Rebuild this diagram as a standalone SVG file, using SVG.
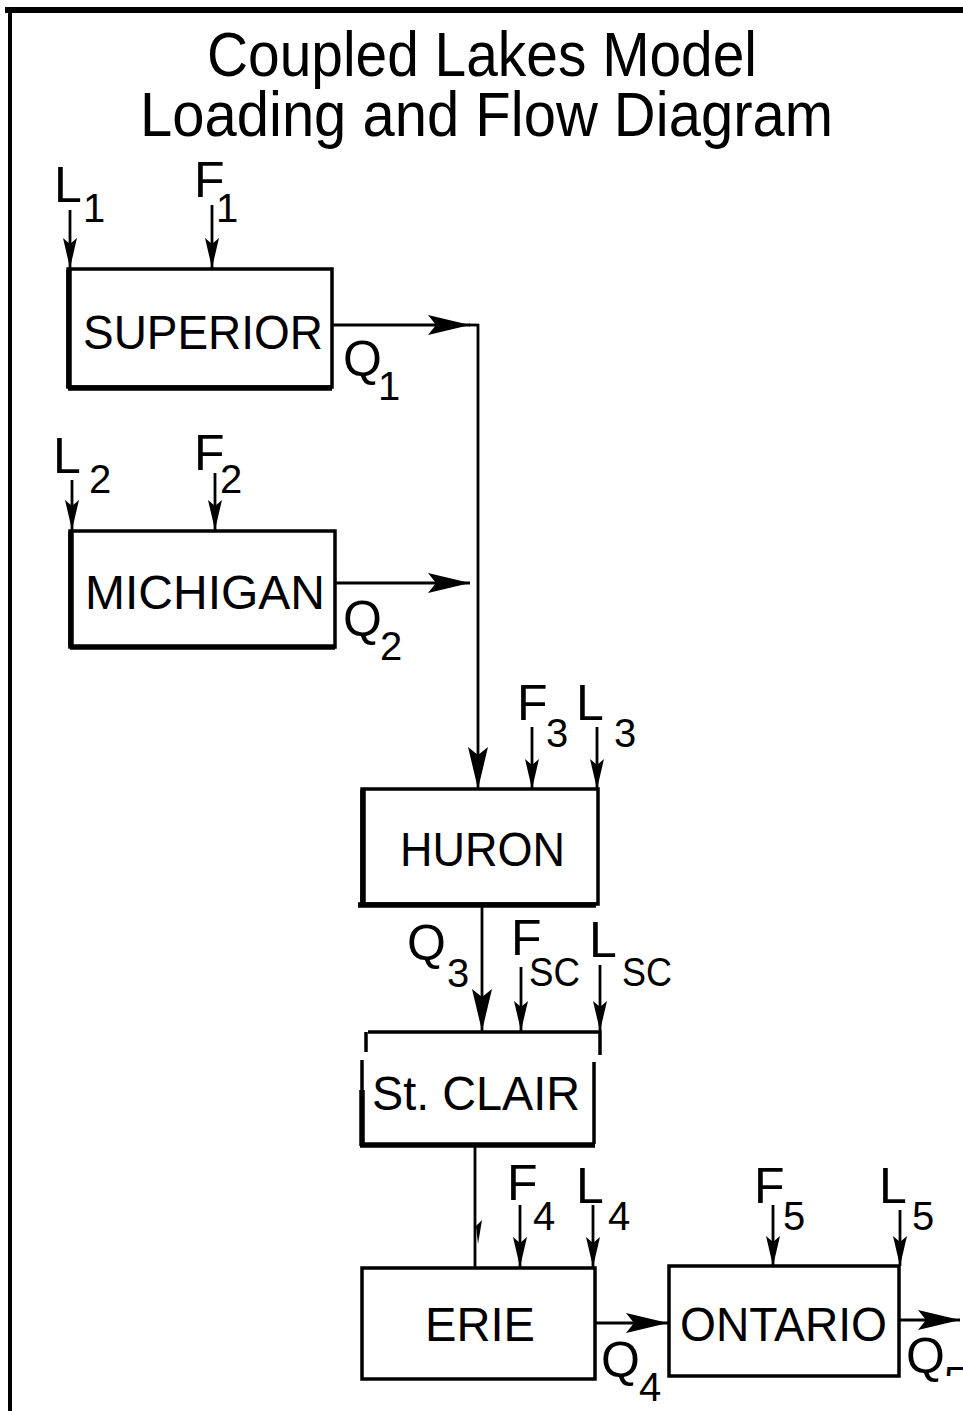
<svg xmlns="http://www.w3.org/2000/svg" width="963" height="1411" viewBox="0 0 963 1411">
<defs>
<style>
.t{font-family:"Liberation Sans",Arial,sans-serif;fill:#000}
.title{font-size:63px}
.lbl{font-size:48px}
.sym{font-size:50px}
.sub{font-size:40px}
.box{fill:#fff;stroke:#000;stroke-width:3.5}
.ln{stroke:#000;stroke-width:2.8;fill:none}
.thick{stroke:#000;stroke-width:5.5;fill:none}
</style>
<marker id="ah" markerUnits="userSpaceOnUse" markerWidth="32" markerHeight="14" refX="30" refY="7" orient="auto">
<path d="M0,0 L30,7 L0,14 L6,7 z" fill="#000"/>
</marker>
<marker id="ahb" markerUnits="userSpaceOnUse" markerWidth="44" markerHeight="20" refX="42" refY="10" orient="auto">
<path d="M0,0 L42,10 L0,20 L8,10 z" fill="#000"/>
</marker>
<clipPath id="cut"><rect x="900" y="1340" width="63" height="36"/></clipPath>
</defs>
<rect x="0" y="0" width="963" height="1411" fill="#fff"/>
<g id="frame">
<line x1="5" y1="10" x2="963" y2="10" stroke="#000" stroke-width="6"/>
<line x1="10" y1="8" x2="10" y2="1411" stroke="#000" stroke-width="4"/>
</g>
<g id="title">
<text class="t title" x="207" y="76" textLength="550" lengthAdjust="spacingAndGlyphs">Coupled Lakes Model</text>
<text class="t title" x="140" y="136" textLength="693" lengthAdjust="spacingAndGlyphs">Loading and Flow Diagram</text>
</g>
<g id="connectors">
<line class="ln" x1="70" y1="210" x2="70" y2="268" marker-end="url(#ah)"/>
<line class="ln" x1="212" y1="205" x2="212" y2="268" marker-end="url(#ah)"/>
<line class="ln" x1="332" y1="325" x2="470" y2="325" marker-end="url(#ahb)"/>
<line class="ln" x1="469" y1="325" x2="479" y2="325"/>
<line class="ln" x1="72" y1="480" x2="72" y2="530" marker-end="url(#ah)"/>
<line class="ln" x1="215" y1="473" x2="215" y2="530" marker-end="url(#ah)"/>
<line class="ln" x1="335" y1="583" x2="470" y2="583" marker-end="url(#ahb)"/>
<line class="ln" x1="478" y1="324" x2="478" y2="789" marker-end="url(#ahb)"/>
<line class="ln" x1="532" y1="727" x2="532" y2="789" marker-end="url(#ah)"/>
<line class="ln" x1="597" y1="727" x2="597" y2="789" marker-end="url(#ah)"/>
<line class="ln" x1="482" y1="905" x2="482" y2="1031" marker-end="url(#ahb)"/>
<line class="ln" x1="521" y1="967" x2="521" y2="1031" marker-end="url(#ah)"/>
<line class="ln" x1="600" y1="965" x2="600" y2="1031" marker-end="url(#ah)"/>
<line class="ln" x1="475" y1="1145" x2="475" y2="1267"/>
<path d="M476,1226 L482,1220 L478,1244 z" fill="#000"/>
<line class="ln" x1="520" y1="1205" x2="520" y2="1267" marker-end="url(#ah)"/>
<line class="ln" x1="593" y1="1205" x2="593" y2="1267" marker-end="url(#ah)"/>
<line class="ln" x1="595" y1="1323" x2="668" y2="1323" marker-end="url(#ahb)"/>
<line class="ln" x1="773" y1="1205" x2="773" y2="1266" marker-end="url(#ah)"/>
<line class="ln" x1="900" y1="1210" x2="900" y2="1266" marker-end="url(#ah)"/>
<line class="ln" x1="900" y1="1320" x2="960" y2="1320" marker-end="url(#ahb)"/>
</g>
<g id="superior">
<rect class="box" x="68" y="269" width="264" height="118"/>
<line class="thick" x1="68" y1="388" x2="332" y2="388"/>
<line class="thick" x1="69" y1="270" x2="69" y2="388"/>
<text class="t lbl" x="83" y="349" textLength="240" lengthAdjust="spacingAndGlyphs">SUPERIOR</text>
</g>
<g id="michigan">
<rect class="box" x="70" y="531" width="265" height="116"/>
<line class="thick" x1="70" y1="647" x2="335" y2="647"/>
<line class="thick" x1="71" y1="532" x2="71" y2="647"/>
<text class="t lbl" x="85" y="609" textLength="240" lengthAdjust="spacingAndGlyphs">MICHIGAN</text>
</g>
<g id="huron">
<rect class="box" x="362" y="789" width="236" height="115"/>
<line class="thick" x1="358" y1="905" x2="596" y2="905"/>
<line class="thick" x1="363" y1="790" x2="363" y2="905"/>
<text class="t lbl" x="400" y="866" textLength="165" lengthAdjust="spacingAndGlyphs">HURON</text>
</g>
<g id="stclair">
<path class="box" d="M368,1032 L600,1032 L600,1055 M594,1062 L594,1144 M362,1060 L362,1146 M366,1032 L366,1052" fill="none"/>
<line class="thick" x1="360" y1="1145" x2="595" y2="1145"/>
<line class="thick" x1="362" y1="1090" x2="362" y2="1146"/>
<text class="t lbl" x="372" y="1110" textLength="208" lengthAdjust="spacingAndGlyphs">St. CLAIR</text>
</g>
<g id="erie">
<rect class="box" x="362" y="1268" width="233" height="111" stroke-width="5"/>
<text class="t lbl" x="425" y="1341" textLength="110" lengthAdjust="spacingAndGlyphs">ERIE</text>
</g>
<g id="ontario">
<rect class="box" x="669" y="1266" width="230" height="110" stroke-width="5"/>
<text class="t lbl" x="680" y="1341" textLength="207" lengthAdjust="spacingAndGlyphs">ONTARIO</text>
</g>
<g id="labels">
<text class="t sym" x="54" y="202">L</text><text class="t sub" x="83" y="222">1</text>
<text class="t sym" x="194" y="197">F</text><text class="t sub" x="216" y="222">1</text>
<text class="t sym" x="343" y="376">Q</text><text class="t sub" x="378" y="400">1</text>
<text class="t sym" x="53" y="473">L</text><text class="t sub" x="89" y="493">2</text>
<text class="t sym" x="194" y="470">F</text><text class="t sub" x="220" y="493">2</text>
<text class="t sym" x="343" y="636">Q</text><text class="t sub" x="380" y="660">2</text>
<text class="t sym" x="517" y="720">F</text><text class="t sub" x="546" y="747">3</text>
<text class="t sym" x="576" y="720">L</text><text class="t sub" x="614" y="747">3</text>
<text class="t sym" x="407" y="960">Q</text><text class="t sub" x="447" y="987">3</text>
<text class="t sym" x="511" y="955">F</text><text class="t sub" x="529" y="986" textLength="51" lengthAdjust="spacingAndGlyphs">SC</text>
<text class="t sym" x="589" y="957">L</text><text class="t sub" x="622" y="986" textLength="50" lengthAdjust="spacingAndGlyphs">SC</text>
<text class="t sym" x="507" y="1200">F</text><text class="t sub" x="533" y="1230">4</text>
<text class="t sym" x="576" y="1203">L</text><text class="t sub" x="608" y="1230">4</text>
<text class="t sym" x="601" y="1377">Q</text><text class="t sub" x="639" y="1401">4</text>
<text class="t sym" x="754" y="1203">F</text><text class="t sub" x="783" y="1230">5</text>
<text class="t sym" x="879" y="1203">L</text><text class="t sub" x="912" y="1230">5</text>
<text class="t sym" x="906" y="1373">Q</text><text class="t sub" x="944" y="1395" clip-path="url(#cut)">5</text>
</g>
</svg>
